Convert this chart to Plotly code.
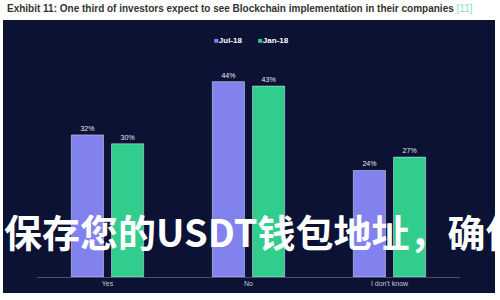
import plotly.graph_objects as go

categories = ["Yes", "No", "I don't know"]
jul18 = [32, 44, 24]
jan18 = [30, 43, 27]
series_names = ["Jul-18", "Jan-18"]
series_colors = ["#8282ee", "#30cd8d"]
title_text = "Exhibit 11: One third of investors expect to see Blockchain implementation in their companies"
ref_text = "[11]"
overlay_text = "保存您的USDT钱包地址，确保"

# pixel layout helpers
L, R, T, B = 37, 460, 55, 277
W, H = R - L, B - T
def px(x):
    return (x - L) / W
def py(y):
    return (B - y) / H

fig = go.Figure()
for name, vals, col in zip(series_names, [jul18, jan18], series_colors):
    fig.add_bar(x=categories, y=vals, name=name, marker_color=col,
                text=[f"{v}%" for v in vals], textposition="outside",
                textfont=dict(color="#e8e8f0", size=7, family="Liberation Sans"),
                cliponaxis=False, showlegend=False)

fig.update_layout(
    width=500, height=300,
    margin=dict(l=L, r=500 - R, t=T, b=300 - B, pad=0),
    paper_bgcolor="white", plot_bgcolor="rgba(0,0,0,0)",
    barmode="group", bargap=0.43, bargroupgap=0.2,
    showlegend=False,
    xaxis=dict(showgrid=False, showline=True, linecolor="#4a5070", linewidth=1,
               tickfont=dict(color="#c8c8d4", size=7, family="Liberation Sans"), ticks=""),
    yaxis=dict(range=[0, 50], visible=False),
    font=dict(family="Liberation Sans"),
)

fig.add_shape(type="rect", xref="paper", yref="paper", layer="below",
              x0=px(3), x1=px(495), y0=py(293), y1=py(20),
              fillcolor="#0b1233", line=dict(width=0))

# legend as annotations
legend_x = [212, 256]
for lx, name, col in zip(legend_x, series_names, series_colors):
    fig.add_annotation(xref="paper", yref="paper", x=px(lx), y=py(40), xanchor="left", yanchor="middle",
                       text=f"<span style='color:{col}'>■</span><b>{name}</b>", showarrow=False,
                       font=dict(size=8, color="white", family="Liberation Sans"))

fig.add_annotation(xref="paper", yref="paper", x=px(5), y=py(9), xanchor="left", yanchor="middle",
                   text=f"<b>{title_text}</b> <span style='color:#8fd8cc'>{ref_text}</span>",
                   showarrow=False, font=dict(size=10, color="#333333", family="Liberation Sans"))

fig.add_annotation(xref="paper", yref="paper", x=px(2), y=py(230), xanchor="left", yanchor="middle",
                   text=f"<b>{overlay_text}</b>", showarrow=False,
                   font=dict(size=38, color="white", family="Noto Sans CJK SC"))

fig.write_html("out.html")
